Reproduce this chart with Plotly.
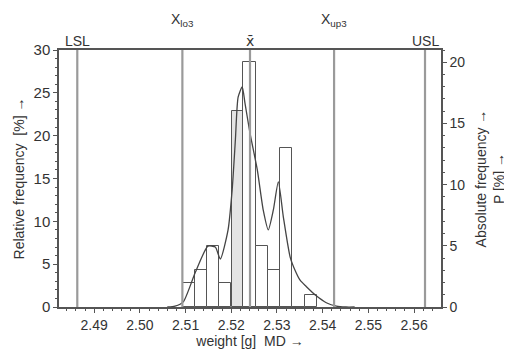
import plotly.graph_objects as go

# ---- data ----
bin_centers = [2.5107, 2.5134, 2.5160, 2.5187, 2.5214, 2.5240, 2.5267, 2.5294, 2.5320, 2.5347, 2.5374]
bin_width = 0.00267
counts = [2, 3, 5, 2, 16, 20, 5, 3, 13, 0, 1]

curve_x = [2.5060, 2.5077, 2.5095, 2.5121, 2.5149, 2.5165, 2.5176, 2.5193, 2.5202, 2.5209,
           2.5215, 2.5224, 2.5230, 2.5241, 2.5257, 2.5270, 2.5281, 2.5292, 2.5303, 2.5314,
           2.5329, 2.5342, 2.5351, 2.5364, 2.5386, 2.5408, 2.5430, 2.5451, 2.5470]
curve_y = [0.0, 0.1, 0.6, 4.0, 7.1, 7.0, 5.6, 9.0, 13.7, 19.5,
           24.5, 25.7, 23.8, 20.3, 16.0, 11.3, 9.0, 11.3, 14.6, 10.5,
           5.8, 4.0, 3.1, 2.4, 1.3, 0.5, 0.1, 0.0, 0.0]

ref_names = ["LSL", "X<sub>lo3</sub>", "x̄", "X<sub>up3</sub>", "USL"]
ref_values = [2.4863, 2.5093, 2.5241, 2.5425, 2.5624]
ref_label_shift = [-1, 19, -1, 19, -1]

x_ticks = [2.49, 2.50, 2.51, 2.52, 2.53, 2.54, 2.55, 2.56]
x_ticklabels = ["2.49", "2.50", "2.51", "2.52", "2.53", "2.54", "2.55", "2.56"]

n_total = sum(counts)
curve_counts = [v * n_total / 100 for v in curve_y]

FONT = "Liberation Sans, Arial, sans-serif"
TXT = "#333333"
LINE = "#555555"

fig = go.Figure()

bar_fill = ["white"] * len(counts)
bar_fill[4] = "#e4e4e4"

# dummy trace to bind the left axis
fig.add_trace(go.Scatter(x=[2.49], y=[0], mode="markers", marker=dict(opacity=0),
                         showlegend=False, hoverinfo="skip"))

fig.add_trace(go.Bar(
    x=bin_centers, y=counts, width=bin_width, yaxis="y2",
    marker=dict(color=bar_fill, line=dict(color="#555555", width=1)),
    showlegend=False, hoverinfo="skip"))

fig.add_trace(go.Scatter(
    x=curve_x, y=curve_counts, yaxis="y2", mode="lines",
    line=dict(color="#444444", width=1.3, shape="spline", smoothing=0.6),
    showlegend=False, hoverinfo="skip"))

for name, val, sh in zip(ref_names, ref_values, ref_label_shift):
    fig.add_shape(type="line", xref="x", yref="paper", x0=val, x1=val, y0=0, y1=1,
                  line=dict(color="#9a9a9a", width=2.2), layer="above")
    fig.add_annotation(x=val, xref="x", y=1, yref="paper", yanchor="bottom", text=name,
                       showarrow=False, yshift=sh,
                       font=dict(family=FONT if name != "x̄" else "DejaVu Sans", size=14, color=TXT))

# page body has an 8px margin: figure is laid out so the plot area lands at x 59-441, y 50-307
fig.update_layout(
    width=504, height=344,
    margin=dict(l=51, r=71, t=42, b=45, autoexpand=False),
    paper_bgcolor="white", plot_bgcolor="white",
    bargap=0,
    font=dict(family=FONT, size=14, color=TXT),
    xaxis=dict(range=[2.4823, 2.5659], tickvals=x_ticks, ticktext=x_ticklabels, automargin=False,
               ticks="outside", ticklen=4, tickcolor=LINE, showgrid=False, zeroline=False,
               showline=True, linecolor=LINE, linewidth=1.5, mirror=True,
               minor=dict(dtick=0.002, tick0=2.49, ticks="outside", ticklen=2, tickcolor=LINE),
               title=dict(text="weight [g]  MD →", font=dict(size=14, color=TXT), standoff=4),
               tickfont=dict(size=14, color=TXT)),
    yaxis=dict(range=[0, 30], dtick=5, ticks="outside", ticklen=4, tickcolor=LINE, automargin=False,
               showgrid=False, zeroline=False, showline=True, linecolor=LINE, linewidth=1.5,
               minor=dict(dtick=1, ticks="outside", ticklen=2, tickcolor=LINE),
               title=dict(text="Relative frequency  [%] →", font=dict(size=14, color=TXT), standoff=6),
               tickfont=dict(size=15, color=TXT)),
    yaxis2=dict(range=[0, n_total * 30 / 100], overlaying="y", side="right", dtick=5, automargin=False,
                ticks="outside", ticklen=4, tickcolor=LINE, showgrid=False, zeroline=False,
                showline=True, linecolor=LINE, linewidth=1.5,
                minor=dict(dtick=1, ticks="outside", ticklen=2, tickcolor=LINE),
                title=dict(text="Absolute frequency →<br>P [%] →", font=dict(size=14, color=TXT), standoff=12),
                tickfont=dict(size=14, color=TXT)),
)

fig.write_html("out.html")
